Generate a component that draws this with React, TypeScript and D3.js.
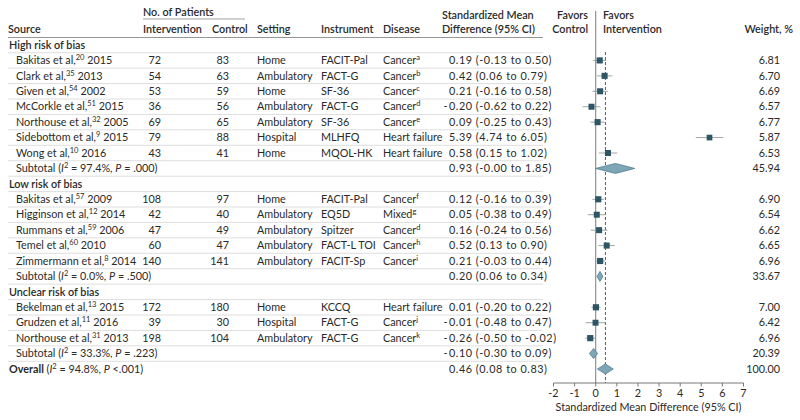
import React from "react";
import * as d3 from "d3";

const groupNames = ["High risk of bias", "Low risk of bias", "Unclear risk of bias"];
const groupOf = [0, 0, 0, 0, 0, 0, 0, 1, 1, 1, 1, 1, 2, 2, 2];
const authors = ["Bakitas et al,", "Clark et al,", "Given et al,", "McCorkle et al,", "Northouse et al,", "Sidebottom et al,", "Wong et al,", "Bakitas et al,", "Higginson et al,", "Rummans et al,", "Temel et al,", "Zimmermann et al,", "Bekelman et al,", "Grudzen et al,", "Northouse et al,"];
const refs = ["20", "35", "54", "51", "32", "9", "10", "57", "12", "59", "60", "8", "13", "11", "31"];
const years = ["2015", "2013", "2002", "2015", "2005", "2015", "2016", "2009", "2014", "2006", "2010", "2014", "2015", "2016", "2013"];
const nIntervention = [72, 54, 53, 36, 69, 79, 43, 108, 42, 47, 60, 140, 172, 39, 198];
const nControl = [83, 63, 59, 56, 65, 88, 41, 97, 40, 49, 47, 141, 180, 30, 104];
const settings = ["Home", "Ambulatory", "Home", "Ambulatory", "Ambulatory", "Hospital", "Home", "Home", "Ambulatory", "Ambulatory", "Ambulatory", "Ambulatory", "Home", "Hospital", "Ambulatory"];
const instruments = ["FACIT-Pal", "FACT-G", "SF-36", "FACT-G", "SF-36", "MLHFQ", "MQOL-HK", "FACIT-Pal", "EQ5D", "Spitzer", "FACT-L TOI", "FACIT-Sp", "KCCQ", "FACT-G", "FACT-G"];
const diseases = ["Cancer", "Cancer", "Cancer", "Cancer", "Cancer", "Heart failure", "Heart failure", "Cancer", "Mixed", "Cancer", "Cancer", "Cancer", "Heart failure", "Cancer", "Cancer"];
const diseaseNotes = ["a", "b", "c", "d", "e", "", "", "f", "g", "d", "h", "i", "", "j", "k"];
const smd = [0.19, 0.42, 0.21, -0.2, 0.09, 5.39, 0.58, 0.12, 0.05, 0.16, 0.52, 0.21, 0.01, -0.01, -0.26];
const ciLow = [-0.13, 0.06, -0.16, -0.62, -0.25, 4.74, 0.15, -0.16, -0.38, -0.24, 0.13, -0.03, -0.2, -0.48, -0.5];
const ciHigh = [0.5, 0.79, 0.58, 0.22, 0.43, 6.05, 1.02, 0.39, 0.49, 0.56, 0.9, 0.44, 0.22, 0.47, -0.02];
const weights = [6.81, 6.7, 6.69, 6.57, 6.77, 5.87, 6.53, 6.9, 6.54, 6.62, 6.65, 6.96, 7.0, 6.42, 6.96];

const subI2 = ["97.4%", "0.0%", "33.3%"];
const subP = [".000", ".500", ".223"];
const subSmd = [0.93, 0.2, -0.1];
const subLow = [-0.0, 0.06, -0.3];
const subHigh = [1.85, 0.34, 0.09];
const subWeight = [45.94, 33.67, 20.39];

const overallI2 = "94.8%";
const overallP = "<.001";
const overallSmd = 0.46;
const overallLow = 0.08;
const overallHigh = 0.83;
const overallWeight = 100.0;

const axisTicks = [-2, -1, 0, 1, 2, 3, 4, 5, 6, 7];

const FONT = "Lato, 'Open Sans', sans-serif";
const TEXT = "#2a2a2a";
const FS = 10.8;

type Row =
  | { kind: "group"; g: number }
  | { kind: "study"; i: number }
  | { kind: "sub"; g: number }
  | { kind: "overall" };

function fmt(v: number) {
  const s = Math.abs(v).toFixed(2);
  return (v < 0 || Object.is(v, -0) ? "-" : "") + s;
}

export default function App() {
  const rows: Row[] = [];
  groupNames.forEach((_, g) => {
    rows.push({ kind: "group", g });
    groupOf.forEach((gg, i) => {
      if (gg === g) rows.push({ kind: "study", i });
    });
    rows.push({ kind: "sub", g });
  });
  rows.push({ kind: "overall" });

  const y = d3.scaleLinear().domain([0, rows.length - 1]).range([45, 369]);
  const step = y(1) - y(0);
  const x = d3.scaleLinear().domain([-2, 7]).range([553.5, 743.5]);
  const sq = d3.scaleSqrt().domain([0, 7]).range([0, 6.2]);

  const axisY = 383;
  const colSource = 8;
  const colStudy = 16;
  const colInt = 161;
  const colCtl = 229;
  const colSetting = 257;
  const colInstr = 321;
  const colDisease = 383;
  const colCI = 449;
  const colWeight = 780;
  const tableRight = 543;

  const txt = (props: any, children: any) => (
    <text fontFamily={FONT} fontSize={FS} fill={TEXT} dy="0.35em" {...props}>
      {children}
    </text>
  );

  const ciText = (yy: number, est: number, lo: number, hi: number, key: string) => {
    const neg = est < 0;
    return (
      <g key={key}>
        {neg && txt({ x: colCI - 1.5, y: yy, textAnchor: "end" }, "-")}
        {txt({ x: colCI, y: yy, letterSpacing: 0.55 }, `${Math.abs(est).toFixed(2)} (${fmt(lo)} to ${fmt(hi)})`)}
      </g>
    );
  };

  const diamond = (yy: number, est: number, lo: number, hi: number, key: string) => {
    const h = 5;
    const path = d3.path();
    path.moveTo(x(lo), yy);
    path.lineTo(x(est), yy - h);
    path.lineTo(x(hi), yy);
    path.lineTo(x(est), yy + h);
    path.closePath();
    return <path key={key} d={path.toString()} fill="#7ea6b7" stroke="#4f7c8e" strokeWidth={0.8} />;
  };

  const italicStats = (i2: string, p: string, pSep: string) => (
    <>
      (<tspan fontStyle="italic">I</tspan>
      <tspan fontSize={7.5} dy="-4">2</tspan>
      <tspan dy="4"> = {i2}, </tspan>
      <tspan fontStyle="italic">P</tspan>
      {pSep}
      {p})
    </>
  );

  return (
    <svg width={800} height={420} style={{ position: "absolute", left: 0, top: 0, background: "#fff" }}>
      {/* header */}
      {txt({ x: 143, y: 12, fontWeight: 600 }, "No. of Patients")}
      <line x1={143} x2={245} y1={19} y2={19} stroke="#888" strokeWidth={0.8} />
      {txt({ x: colSource, y: 29, fontWeight: 600 }, "Source")}
      {txt({ x: 143, y: 29, fontWeight: 600 }, "Intervention")}
      {txt({ x: 212, y: 29, fontWeight: 600 }, "Control")}
      {txt({ x: colSetting, y: 29, fontWeight: 600 }, "Setting")}
      {txt({ x: colInstr, y: 29, fontWeight: 600 }, "Instrument")}
      {txt({ x: colDisease, y: 29, fontWeight: 600 }, "Disease")}
      {txt({ x: 442, y: 15, fontWeight: 600 }, "Standardized Mean")}
      {txt({ x: 442, y: 29, fontWeight: 600 }, "Difference (95% CI)")}
      {txt({ x: 588, y: 15, fontWeight: 600, textAnchor: "end" }, "Favors")}
      {txt({ x: 588, y: 29, fontWeight: 600, textAnchor: "end" }, "Control")}
      {txt({ x: 603, y: 15, fontWeight: 600 }, "Favors")}
      {txt({ x: 603, y: 29, fontWeight: 600 }, "Intervention")}
      {txt({ x: 793, y: 29, fontWeight: 600, textAnchor: "end" }, "Weight, %")}
      <line x1={colSource} x2={tableRight} y1={37.5} y2={37.5} stroke="#8a8a8a" strokeWidth={0.9} />

      {/* row separators */}
      {rows.slice(0, -1).map((_, k) => (
        <line key={"sep" + k} x1={colSource} x2={tableRight} y1={y(k) + step / 2} y2={y(k) + step / 2} stroke="#d6d6d6" strokeWidth={0.8} />
      ))}

      {/* reference lines */}
      <line x1={x(0)} x2={x(0)} y1={11} y2={axisY} stroke="#6a6a6a" strokeWidth={0.9} />
      <line x1={x(overallSmd)} x2={x(overallSmd)} y1={52} y2={axisY} stroke="#4a4a4a" strokeWidth={0.9} strokeDasharray="3,2" />

      {rows.map((r, k) => {
        const yy = y(k);
        if (r.kind === "group") {
          return <g key={"r" + k}>{txt({ x: colSource + 1, y: yy, fontWeight: 600 }, groupNames[r.g])}</g>;
        }
        if (r.kind === "study") {
          const i = r.i;
          const s = sq(weights[i]);
          return (
            <g key={"r" + k}>
              <text fontFamily={FONT} fontSize={FS} fill={TEXT} dy="0.35em" x={colStudy} y={yy}>
                {authors[i]}
                <tspan fontSize={7.5} dy="-4">{refs[i]}</tspan>
                <tspan dy="4"> {years[i]}</tspan>
              </text>
              {txt({ x: colInt, y: yy, textAnchor: "end" }, nIntervention[i])}
              {txt({ x: colCtl, y: yy, textAnchor: "end" }, nControl[i])}
              {txt({ x: colSetting, y: yy }, settings[i])}
              {txt({ x: colInstr, y: yy }, instruments[i])}
              <text fontFamily={FONT} fontSize={FS} fill={TEXT} dy="0.35em" x={colDisease} y={yy}>
                {diseases[i]}
                {diseaseNotes[i] && (
                  <tspan fontSize={7.5} dy="-4">
                    {diseaseNotes[i]}
                  </tspan>
                )}
              </text>
              {ciText(yy, smd[i], ciLow[i], ciHigh[i], "ci" + k)}
              <line x1={x(ciLow[i])} x2={x(ciHigh[i])} y1={yy} y2={yy} stroke="#9a9a9a" strokeWidth={0.9} />
              <rect x={x(smd[i]) - s / 2} y={yy - s / 2} width={s} height={s} fill="#2c5666" />
              {txt({ x: colWeight, y: yy, textAnchor: "end" }, weights[i].toFixed(2))}
            </g>
          );
        }
        if (r.kind === "sub") {
          const g = r.g;
          return (
            <g key={"r" + k}>
              <text fontFamily={FONT} fontSize={FS} fill={TEXT} dy="0.35em" x={colStudy} y={yy}>
                Subtotal {italicStats(subI2[g], subP[g], " = ")}
              </text>
              {ciText(yy, subSmd[g], subLow[g], subHigh[g], "sci" + k)}
              {diamond(yy, subSmd[g], subLow[g], subHigh[g], "d" + k)}
              {txt({ x: colWeight, y: yy, textAnchor: "end" }, subWeight[g].toFixed(2))}
            </g>
          );
        }
        return (
          <g key={"r" + k}>
            <text fontFamily={FONT} fontSize={FS} fill={TEXT} dy="0.35em" x={colSource + 1} y={yy}>
              <tspan fontWeight={700}>Overall</tspan> {italicStats(overallI2, overallP, " ")}
            </text>
            {ciText(yy, overallSmd, overallLow, overallHigh, "oci")}
            {diamond(yy, overallSmd, overallLow, overallHigh, "od")}
            {txt({ x: colWeight, y: yy, textAnchor: "end" }, overallWeight.toFixed(2))}
          </g>
        );
      })}

      {/* axis */}
      <line x1={x(-2)} x2={x(7)} y1={axisY} y2={axisY} stroke="#6a6a6a" strokeWidth={0.9} />
      {axisTicks.map((t) => (
        <g key={"t" + t}>
          <line x1={x(t)} x2={x(t)} y1={axisY} y2={axisY + 3.5} stroke="#6a6a6a" strokeWidth={0.9} />
          {txt({ x: x(t), y: axisY + 10, textAnchor: "middle" }, t)}
        </g>
      ))}
      {txt({ x: (x(-2) + x(7)) / 2, y: 407, textAnchor: "middle" }, "Standardized Mean Difference (95% CI)")}
    </svg>
  );
}
